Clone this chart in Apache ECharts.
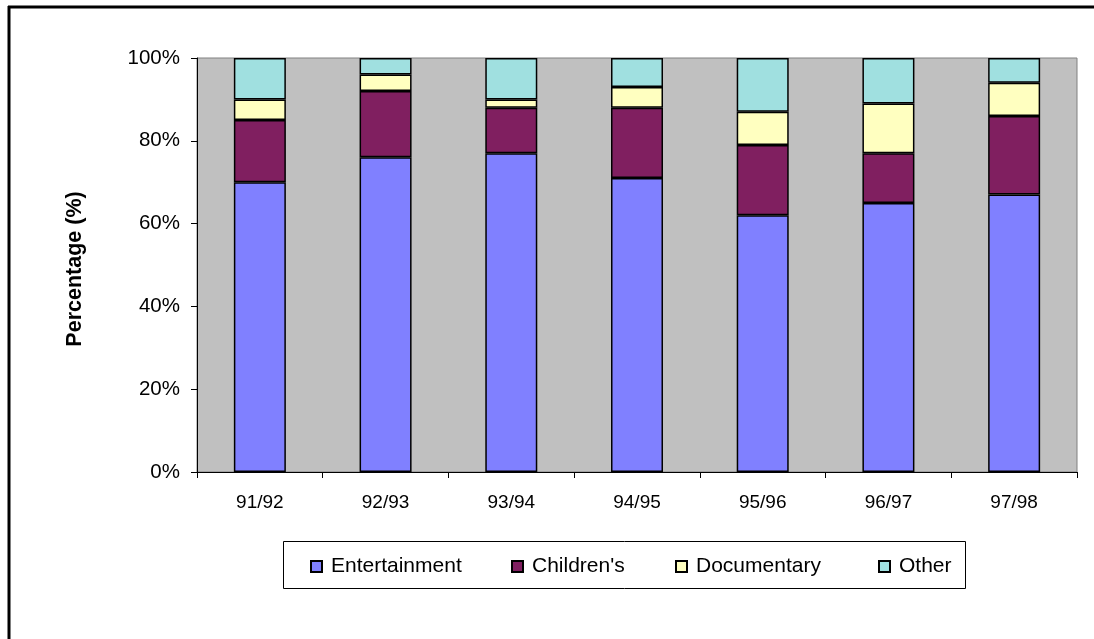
<!DOCTYPE html>
<html>
<head>
<meta charset="utf-8">
<style>
  html, body { margin: 0; padding: 0; background: #fff; }
  #chart { width: 1094px; height: 639px; }
</style>
<script src="https://cdn.jsdelivr.net/npm/echarts@6/dist/echarts.min.js"></script>
</head>
<body>
<div id="chart"></div>
<script>
// Programme mix by season (share of hours, %)
const seasons = ['91/92', '92/93', '93/94', '94/95', '95/96', '96/97', '97/98'];
const entertainment = [70, 76, 77, 71, 62, 65, 67];
const childrens     = [15, 16, 11, 17, 17, 12, 19];
const documentary   = [5, 4, 2, 5, 8, 12, 8];
const other         = [10, 4, 10, 7, 13, 11, 6];
const yTicks = [0, 20, 40, 60, 80, 100];

const FONT = '"Liberation Sans", Arial, sans-serif';
const seriesDefs = [
  { name: 'Entertainment', data: entertainment, color: '#8080FF' },
  { name: "Children's",    data: childrens,     color: '#801F60' },
  { name: 'Documentary',   data: documentary,   color: '#FFFFC0' },
  { name: 'Other',         data: other,         color: '#A0E0E0' }
];
const legendLefts = [310, 511, 675, 878];

const chart = echarts.init(document.getElementById('chart'), null, { renderer: 'canvas' });

chart.setOption({
  animation: false,
  backgroundColor: '#ffffff',
  grid: {
    left: 197, right: 17, top: 58, height: 414,
    show: true,
    backgroundColor: '#C0C0C0',
    borderColor: '#808080',
    borderWidth: 1
  },
  xAxis: {
    type: 'category',
    data: seasons,
    boundaryGap: true,
    axisLine: { lineStyle: { color: '#000', width: 1 } },
    axisTick: { show: true, length: 6, inside: false, lineStyle: { color: '#000' } },
    axisLabel: { color: '#000', fontFamily: FONT, fontSize: 19, margin: 21 },
    splitLine: { show: false }
  },
  yAxis: {
    type: 'value',
    min: yTicks[0],
    max: yTicks[yTicks.length - 1],
    interval: 20,
    name: 'Percentage (%)',
    nameLocation: 'middle',
    nameGap: 111,
    nameRotate: 90,
    nameTextStyle: { color: '#000', fontFamily: FONT, fontSize: 21.5, fontWeight: 'bold', padding: [0, 8, 0, 0] },
    axisLine: { show: true, lineStyle: { color: '#000', width: 1 } },
    axisTick: { show: true, length: 6, lineStyle: { color: '#000' } },
    axisLabel: { color: '#000', fontFamily: FONT, fontSize: 20.5, margin: 17, formatter: '{value}%' },
    splitLine: { show: false }
  },
  legend: seriesDefs.map((s, i) => ({
    data: [s.name],
    left: legendLefts[i],
    top: 556,
    padding: 0,
    icon: 'rect',
    itemWidth: 11,
    itemHeight: 11,
    itemGap: 4,
    textStyle: { color: '#000', fontFamily: FONT, fontSize: 21, padding: [0, 0, 0, 4] },
    selectedMode: false
  })),
  series: seriesDefs.map(s => ({
    name: s.name,
    type: 'bar',
    stack: 'share',
    data: s.data,
    barWidth: 52,
    itemStyle: { color: s.color, borderColor: '#000', borderWidth: 1.5 }
  })),
  graphic: [
    // legend frame
    { type: 'rect', shape: { x: 283.5, y: 541.5, width: 682, height: 47 },
      style: { fill: 'none', stroke: '#000', lineWidth: 1 }, z: -1 },
    // outer chart frame (top and left edges)
    { type: 'line', shape: { x1: 8, y1: 7, x2: 1094, y2: 7 },
      style: { stroke: '#000', lineWidth: 3 } },
    { type: 'line', shape: { x1: 9, y1: 6, x2: 9, y2: 639 },
      style: { stroke: '#000', lineWidth: 3 } }
  ]
});
</script>
</body>
</html>
